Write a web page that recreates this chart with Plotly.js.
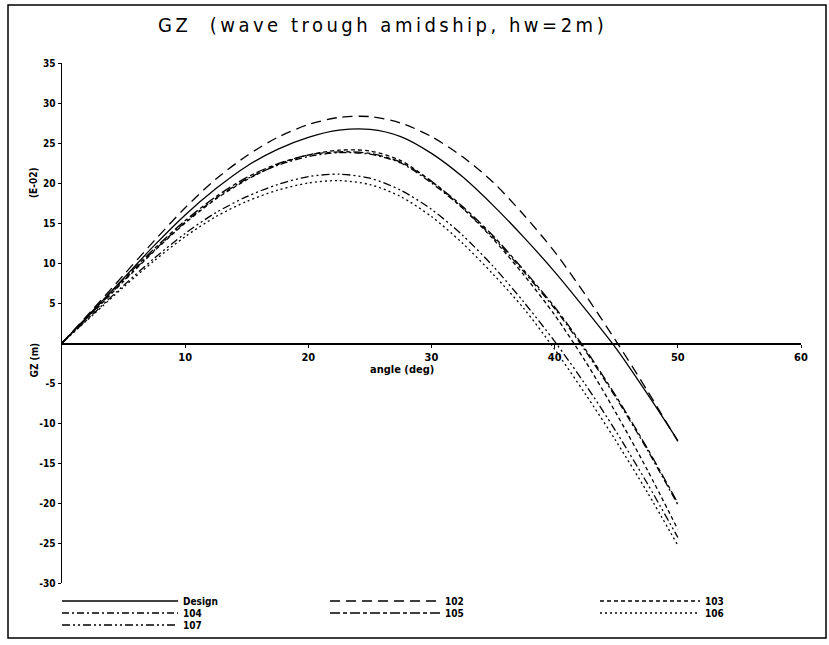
<!DOCTYPE html>
<html><head><meta charset="utf-8">
<script src="https://cdn.plot.ly/plotly-3.0.1.min.js"></script>
<style>
html,body{margin:0;padding:0;background:#fff}
#chart{width:829px;height:645px}
.gtitle{letter-spacing:3.5px}
</style>
</head><body><div id="chart"></div>
<script>
// heel angle (deg)
const angle = [0, 2.5, 5, 7.5, 10, 12.5, 15, 17.5, 20, 22.5, 25, 27.5, 30, 32.5, 35, 37.5, 40, 42.5, 45, 47.5, 50];
// GZ values (m, E-02)
const gzDesign = [0, 4.0, 8.1, 12.2, 16.0, 19.3, 22.1, 24.2, 25.7, 26.6, 26.7, 25.8, 23.7, 20.8, 17.2, 13.2, 8.9, 4.2, -0.7, -6.3, -12.2];
const gz102 = [0, 4.2, 8.5, 12.8, 16.9, 20.5, 23.4, 25.7, 27.3, 28.2, 28.3, 27.5, 25.8, 23.3, 20.1, 16.0, 11.4, 6.0, 0.2, -5.9, -12.3];
const gz103 = [0, 3.8, 7.7, 11.5, 15.0, 18.0, 20.4, 22.3, 23.5, 24.1, 24.0, 22.8, 20.2, 16.9, 13.0, 8.5, 3.5, -2.3, -8.8, -15.8, -23.3];
const gz104 = [0, 3.9, 7.8, 11.6, 15.1, 18.1, 20.5, 22.2, 23.3, 23.8, 23.6, 22.5, 20.0, 16.9, 13.2, 8.9, 4.3, -1.0, -6.9, -13.3, -20.2];
const gz105 = [0, 4.0, 8.0, 11.8, 15.3, 18.3, 20.7, 22.4, 23.5, 23.9, 23.7, 22.6, 20.2, 17.1, 13.4, 9.1, 4.5, -0.8, -6.7, -13.1, -20.0];
const gz106 = [0, 3.5, 7.0, 10.3, 13.3, 15.8, 17.7, 19.1, 20.0, 20.3, 19.8, 18.3, 15.8, 12.5, 8.6, 4.3, -0.8, -6.4, -12.3, -18.6, -25.3];
const gz107 = [0, 3.6, 7.2, 10.6, 13.7, 16.3, 18.3, 19.8, 20.8, 21.1, 20.6, 19.1, 16.7, 13.5, 9.6, 5.1, 0.2, -5.2, -11.1, -17.5, -24.3];

const seriesNames = ['Design', '102', '103', '104', '105', '106', '107'];
const seriesValues = [gzDesign, gz102, gz103, gz104, gz105, gz106, gz107];

const xTickVals = [10, 20, 30, 40, 50, 60];
const xTickText = ['10', '20', '30', '40', '50', '60'];
const yTickVals = [-30, -25, -20, -15, -10, -5, 5, 10, 15, 20, 25, 30, 35];
const yTickText = ['-30', '-25', '-20', '-15', '-10', '-5', '5', '10', '15', '20', '25', '30', '35'];

const FONT = '"DejaVu Sans Condensed", "Liberation Sans Narrow", "Liberation Sans", sans-serif';
const dashes = ['solid', '10px,6px', '4px,3px', '7px,3px,2px,3px', '10px,3px,4px,3px', '2px,3px', '8px,3px,2px,3px,2px,3px'];

const traces = seriesNames.map((n, i) => ({
  type: 'scatter', mode: 'lines', name: n,
  x: angle, y: seriesValues[i],
  line: {color: '#000', width: 1.3, dash: dashes[i], shape: 'spline', smoothing: 0.8},
  showlegend: false, hoverinfo: 'skip'
}));

// pixel -> paper helpers (plot area 62..801 x, 63..583 y)
const L = 62, R = 801, T = 63, B = 583;
const xp = px => (px - L) / (R - L);
const yp = py => (B - py) / (B - T);

const shapes = [{
  type: 'rect', xref: 'paper', yref: 'paper',
  x0: xp(8), x1: xp(826), y0: yp(638), y1: yp(5),
  line: {color: '#000', width: 1.5}, fillcolor: 'rgba(0,0,0,0)'
}];
const annotations = [];

// custom legend (3 columns)
const legCols = [[62, 178], [330, 440], [600, 700]];
const legRows = [601, 613, 625];
seriesNames.forEach((n, i) => {
  const c = legCols[i % 3], r = legRows[Math.floor(i / 3)];
  shapes.push({type: 'line', xref: 'paper', yref: 'paper',
    x0: xp(c[0]), x1: xp(c[1]), y0: yp(r), y1: yp(r),
    line: {color: '#000', width: 1.3, dash: dashes[i]}});
  annotations.push({xref: 'paper', yref: 'paper', x: xp(c[1] + 3), y: yp(r),
    xanchor: 'left', yanchor: 'middle', showarrow: false, text: '<b>' + n + '</b>',
    font: {family: FONT, size: 10, color: '#000'}});
});

annotations.push({xref: 'x', yref: 'y', x: 27.6, y: 0, yshift: -26, showarrow: false,
  text: '<b>angle (deg)</b>', font: {family: FONT, size: 11, color: '#000'}});
annotations.push({xref: 'paper', yref: 'paper', x: xp(26), y: yp(360), textangle: -90,
  showarrow: false, text: '<b>GZ (m)</b>', font: {family: FONT, size: 10, color: '#000'}});
annotations.push({xref: 'paper', yref: 'paper', x: xp(26), y: yp(165), textangle: -90,
  showarrow: false, text: '<b>(E-02)</b>', font: {family: FONT, size: 10, color: '#000'}});

const layout = {
  width: 829, height: 645,
  paper_bgcolor: '#fff', plot_bgcolor: '#fff',
  margin: {l: L, r: 829 - R, t: T, b: 645 - B},
  title: {text: 'GZ\u00a0\u00a0(wave trough amidship, hw=2m)', xref: 'container', yref: 'container',
    x: 158 / 829, xanchor: 'left', y: 1 - 25 / 645, yanchor: 'middle',
    font: {family: FONT, size: 20, color: '#000'}},
  xaxis: {range: [0, 60], anchor: 'free', position: 30 / 65, showline: true, linecolor: '#000', linewidth: 1.5,
    showgrid: false, zeroline: false, ticks: 'outside', ticklen: 3, tickcolor: '#000',
    tickvals: xTickVals, ticktext: xTickText,
    tickfont: {family: FONT, size: 11, color: '#000', weight: 'bold'}},
  yaxis: {range: [-30, 35], showline: true, linecolor: '#000', linewidth: 1.5,
    showgrid: false, zeroline: false, ticks: 'outside', ticklen: 3, tickcolor: '#000',
    tickvals: yTickVals, ticktext: yTickText,
    tickfont: {family: FONT, size: 10, color: '#000', weight: 'bold'}},
  shapes: shapes,
  annotations: annotations,
  showlegend: false
};

Plotly.newPlot('chart', traces, layout, {displayModeBar: false, staticPlot: true});
</script>
</body></html>
